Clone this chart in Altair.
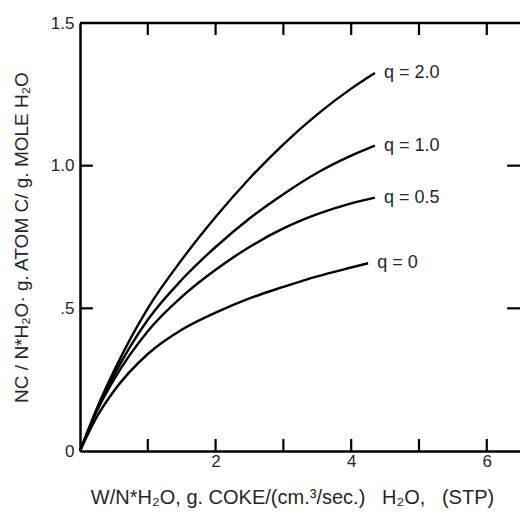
import altair as alt
import pandas as pd

# --- data ---
x_main = [0, 0.25, 0.5, 1, 1.5, 2, 2.5, 3, 3.5, 4, 4.35]
x_q0 = [0, 0.25, 0.5, 1, 1.5, 2, 2.5, 3, 3.5, 4, 4.25]
y_q20 = [0, 0.15, 0.28, 0.50, 0.67, 0.82, 0.955, 1.075, 1.18, 1.27, 1.325]
y_q10 = [0, 0.145, 0.265, 0.46, 0.60, 0.715, 0.815, 0.90, 0.975, 1.035, 1.07]
y_q05 = [0, 0.14, 0.25, 0.42, 0.54, 0.635, 0.715, 0.78, 0.83, 0.868, 0.888]
y_q00 = [0, 0.12, 0.21, 0.34, 0.425, 0.485, 0.535, 0.575, 0.612, 0.643, 0.658]
series_names = ["q = 2.0", "q = 1.0", "q = 0.5", "q = 0"]

x_ticks_minor = [1, 2, 3, 4, 5, 6]
x_tick_labels = [2, 4, 6]
y_ticks = [0.5, 1.0]
y_tick_labels = [0, 0.5, 1.0, 1.5]

X_MAX = 6.49
Y_MAX = 1.5
TX = 0.042   # inward tick length, y units
TY = 0.19    # inward tick length, x units

rows = []
for name, xs_, ys_ in zip(series_names,
                          [x_main, x_main, x_main, x_q0],
                          [y_q20, y_q10, y_q05, y_q00]):
    for xv, yv in zip(xs_, ys_):
        rows.append({"series": name, "x": xv, "y": yv})
df = pd.DataFrame(rows)
ends = df.groupby("series", sort=False).tail(1)

xs = alt.Scale(domain=[0, X_MAX], nice=False, zero=False)
ys = alt.Scale(domain=[0, Y_MAX], nice=False, zero=False)

FONT = "Liberation Sans"
TXT = "#262626"
NB = "\u00a0"

ylabel_expr = "datum.value == 0 ? '0' : datum.value == 0.5 ? '.5' : format(datum.value, '.1f')"

x_title = f"W/N*H₂O,{NB}g.{NB}COKE/(cm.³/sec.){NB}{NB}{NB}H₂O,{NB}{NB}{NB}(STP)"

curves = alt.Chart(df).mark_line(color="black", strokeWidth=2.4, interpolate="monotone").encode(
    x=alt.X("x:Q", scale=xs,
            axis=alt.Axis(values=x_tick_labels, format="d", ticks=False, grid=False,
                          domainColor="black", domainWidth=2.5, labelFontSize=17,
                          labelColor=TXT, labelFont=FONT, labelPadding=2,
                          title=x_title,
                          titleFontSize=20, titleFont=FONT, titleFontWeight="normal",
                          titleColor=TXT, titleX=212, titleY=46, titleBaseline="middle",
                          titleAlign="center")),
    y=alt.Y("y:Q", scale=ys,
            axis=alt.Axis(values=y_tick_labels, ticks=False, grid=False, domainColor="black",
                          domainWidth=2.5, labelFontSize=17, labelColor=TXT, labelFont=FONT,
                          labelPadding=6, labelExpr=ylabel_expr,
                          title="NC / N*H₂O·  g. ATOM C/ g. MOLE H₂O",
                          titleFontSize=19, titleFont=FONT, titleFontWeight="normal",
                          titleColor=TXT, titleX=-59, titleY=214, titleBaseline="middle",
                          titleAlign="center", titleAngle=270)),
    detail="series:N",
)

labels = alt.Chart(ends).mark_text(align="left", baseline="middle", dx=9, fontSize=18,
                                   font=FONT, color=TXT).encode(
    x=alt.X("x:Q", scale=xs), y=alt.Y("y:Q", scale=ys), text="series:N")

top_spine = alt.Chart(pd.DataFrame({"a": [0]})).mark_rule(color="black", strokeWidth=2.5).encode(
    x=alt.datum(0, scale=xs), x2=alt.datum(X_MAX), y=alt.datum(Y_MAX, scale=ys))

xt = pd.DataFrame({"x": x_ticks_minor})
bottom_ticks = alt.Chart(xt).mark_rule(color="black", strokeWidth=2.2).encode(
    x=alt.X("x:Q", scale=xs), y=alt.datum(0, scale=ys), y2=alt.datum(TX))
top_ticks = alt.Chart(xt).mark_rule(color="black", strokeWidth=2.2).encode(
    x=alt.X("x:Q", scale=xs), y=alt.datum(Y_MAX, scale=ys), y2=alt.datum(Y_MAX - TX))

yt = pd.DataFrame({"y": y_ticks})
left_ticks = alt.Chart(yt).mark_rule(color="black", strokeWidth=2.2).encode(
    y=alt.Y("y:Q", scale=ys), x=alt.datum(0, scale=xs), x2=alt.datum(TY))
right_ticks = alt.Chart(yt).mark_rule(color="black", strokeWidth=2.2).encode(
    y=alt.Y("y:Q", scale=ys), x=alt.datum(X_MAX, scale=xs), x2=alt.datum(X_MAX - TY))

chart = alt.layer(curves, labels, top_spine, bottom_ticks, top_ticks, left_ticks, right_ticks).properties(
    width=440, height=428,
    autosize=alt.AutoSizeParams(type="none"),
    padding={"left": 72, "top": 15, "right": 0, "bottom": 58},
    background="white",
).configure_view(stroke=None)

chart.save("out.html", embed_options={"renderer": "svg", "actions": False})
